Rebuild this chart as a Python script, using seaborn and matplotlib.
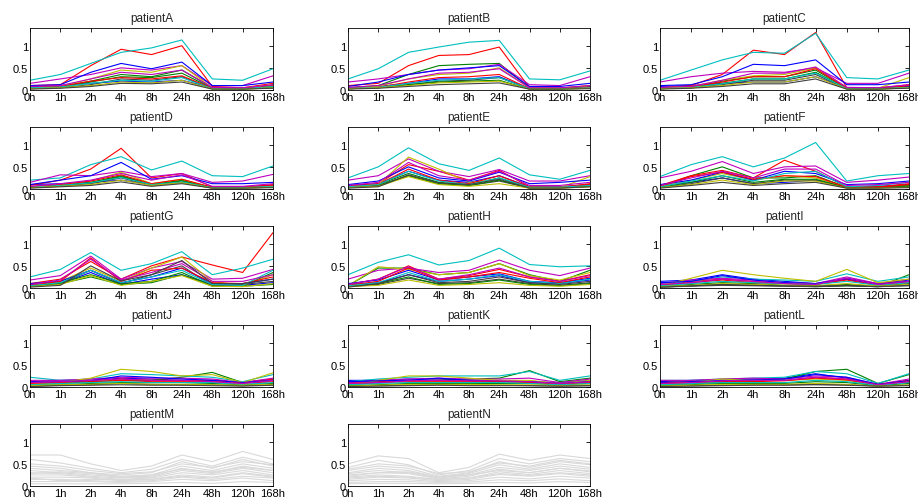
import numpy as np
import pandas as pd
import matplotlib
matplotlib.use("Agg")
import matplotlib.pyplot as plt
import seaborn as sns

times = ["0h", "1h", "2h", "4h", "8h", "24h", "48h", "120h", "168h"]
patients = ["patientA", "patientB", "patientC", "patientD", "patientE", "patientF", "patientG",
            "patientH", "patientI", "patientJ", "patientK", "patientL", "patientM", "patientN"]

patientA = [
    [0.08,0.10,0.15,0.20,0.18,0.22,0.05,0.04,0.10],
    [0.05,0.08,0.20,0.35,0.30,0.45,0.05,0.03,0.08],
    [0.10,0.12,0.55,0.92,0.80,1.00,0.08,0.05,0.15],
    [0.22,0.35,0.60,0.85,0.95,1.13,0.25,0.22,0.48],
    [0.15,0.25,0.35,0.50,0.45,0.55,0.10,0.10,0.32],
    [0.05,0.08,0.25,0.45,0.40,0.55,0.05,0.04,0.12],
    [0.03,0.05,0.12,0.25,0.22,0.30,0.03,0.03,0.06],
    [0.10,0.12,0.40,0.60,0.48,0.63,0.10,0.10,0.18],
    [0.04,0.06,0.18,0.30,0.28,0.38,0.04,0.02,0.05],
    [0.06,0.08,0.20,0.28,0.25,0.32,0.04,0.03,0.10],
    [0.05,0.07,0.15,0.22,0.20,0.28,0.03,0.03,0.08],
    [0.08,0.10,0.25,0.40,0.35,0.45,0.06,0.05,0.12],
    [0.03,0.05,0.10,0.18,0.16,0.22,0.02,0.02,0.05],
    [0.02,0.04,0.08,0.15,0.14,0.18,0.02,0.02,0.04],
]
patientB = [
    [0.05,0.08,0.15,0.25,0.25,0.30,0.03,0.03,0.08],
    [0.05,0.10,0.35,0.55,0.58,0.60,0.05,0.04,0.06],
    [0.10,0.15,0.55,0.78,0.80,0.97,0.05,0.04,0.10],
    [0.25,0.48,0.85,0.97,1.08,1.12,0.25,0.23,0.43],
    [0.18,0.25,0.35,0.45,0.48,0.58,0.12,0.10,0.30],
    [0.05,0.08,0.25,0.35,0.38,0.50,0.05,0.04,0.10],
    [0.03,0.05,0.12,0.20,0.22,0.28,0.03,0.03,0.05],
    [0.08,0.18,0.35,0.45,0.50,0.55,0.08,0.08,0.15],
    [0.03,0.05,0.12,0.18,0.20,0.22,0.02,0.02,0.04],
    [0.04,0.06,0.18,0.28,0.30,0.35,0.03,0.03,0.06],
    [0.04,0.06,0.15,0.22,0.25,0.28,0.03,0.03,0.05],
    [0.06,0.10,0.25,0.38,0.40,0.48,0.05,0.05,0.10],
    [0.03,0.05,0.10,0.16,0.18,0.20,0.02,0.02,0.04],
    [0.02,0.04,0.08,0.12,0.14,0.16,0.02,0.02,0.03],
]
patientC = [
    [0.08,0.10,0.15,0.18,0.18,0.30,0.05,0.05,0.08],
    [0.04,0.06,0.20,0.30,0.30,0.45,0.04,0.03,0.06],
    [0.05,0.10,0.35,0.90,0.80,1.30,0.05,0.04,0.12],
    [0.22,0.45,0.68,0.85,0.83,1.28,0.28,0.25,0.45],
    [0.18,0.30,0.38,0.42,0.40,0.50,0.15,0.15,0.38],
    [0.05,0.08,0.22,0.32,0.35,0.50,0.05,0.04,0.28],
    [0.03,0.05,0.12,0.22,0.22,0.35,0.03,0.03,0.06],
    [0.10,0.12,0.30,0.58,0.55,0.68,0.12,0.12,0.18],
    [0.03,0.05,0.15,0.25,0.25,0.40,0.03,0.02,0.05],
    [0.05,0.07,0.18,0.30,0.30,0.48,0.04,0.03,0.10],
    [0.04,0.06,0.14,0.25,0.25,0.38,0.03,0.03,0.06],
    [0.06,0.08,0.22,0.38,0.38,0.52,0.06,0.05,0.12],
    [0.03,0.05,0.10,0.18,0.18,0.30,0.02,0.02,0.05],
    [0.02,0.04,0.08,0.14,0.14,0.25,0.02,0.02,0.04],
]
patientD = [
    [0.10,0.12,0.15,0.20,0.10,0.15,0.04,0.04,0.08],
    [0.05,0.08,0.15,0.30,0.10,0.20,0.03,0.03,0.06],
    [0.08,0.20,0.45,0.92,0.25,0.35,0.05,0.04,0.10],
    [0.20,0.25,0.55,0.73,0.43,0.63,0.30,0.28,0.52],
    [0.15,0.32,0.30,0.40,0.28,0.35,0.15,0.18,0.33],
    [0.05,0.10,0.18,0.38,0.12,0.22,0.03,0.03,0.06],
    [0.03,0.06,0.12,0.25,0.08,0.15,0.02,0.02,0.04],
    [0.10,0.20,0.30,0.60,0.22,0.30,0.12,0.12,0.15],
    [0.04,0.08,0.14,0.28,0.10,0.18,0.03,0.03,0.05],
    [0.05,0.10,0.18,0.32,0.12,0.22,0.04,0.04,0.08],
    [0.04,0.08,0.14,0.26,0.10,0.16,0.03,0.03,0.06],
    [0.06,0.12,0.20,0.35,0.20,0.32,0.06,0.06,0.12],
    [0.03,0.06,0.10,0.20,0.08,0.14,0.02,0.02,0.04],
    [0.02,0.05,0.08,0.16,0.06,0.12,0.02,0.02,0.03],
]
patientE = [
    [0.08,0.12,0.40,0.20,0.15,0.30,0.05,0.05,0.10],
    [0.05,0.10,0.35,0.15,0.10,0.25,0.03,0.03,0.08],
    [0.06,0.12,0.55,0.40,0.20,0.42,0.05,0.04,0.12],
    [0.25,0.50,0.93,0.57,0.42,0.70,0.32,0.22,0.42],
    [0.20,0.30,0.68,0.40,0.28,0.44,0.18,0.18,0.30],
    [0.05,0.10,0.72,0.45,0.15,0.20,0.04,0.03,0.28],
    [0.03,0.08,0.30,0.12,0.08,0.18,0.02,0.02,0.06],
    [0.10,0.18,0.50,0.25,0.18,0.38,0.12,0.15,0.20],
    [0.04,0.08,0.30,0.12,0.08,0.20,0.03,0.03,0.06],
    [0.05,0.10,0.45,0.20,0.12,0.30,0.04,0.04,0.10],
    [0.05,0.10,0.40,0.18,0.10,0.25,0.04,0.04,0.08],
    [0.08,0.15,0.60,0.30,0.20,0.40,0.08,0.08,0.15],
    [0.03,0.06,0.28,0.10,0.06,0.12,0.02,0.02,0.05],
    [0.02,0.05,0.32,0.14,0.10,0.22,0.02,0.02,0.05],
]
patientF = [
    [0.08,0.15,0.25,0.12,0.15,0.20,0.05,0.06,0.10],
    [0.05,0.30,0.50,0.25,0.25,0.30,0.04,0.04,0.08],
    [0.08,0.30,0.42,0.25,0.65,0.40,0.05,0.05,0.12],
    [0.28,0.55,0.73,0.50,0.70,1.05,0.18,0.30,0.35],
    [0.25,0.40,0.62,0.35,0.50,0.52,0.15,0.20,0.27],
    [0.05,0.20,0.35,0.20,0.30,0.25,0.04,0.03,0.06],
    [0.03,0.12,0.25,0.12,0.20,0.20,0.03,0.03,0.05],
    [0.10,0.20,0.38,0.20,0.40,0.35,0.10,0.12,0.18],
    [0.04,0.15,0.30,0.15,0.22,0.22,0.03,0.03,0.06],
    [0.06,0.28,0.38,0.22,0.30,0.28,0.04,0.04,0.10],
    [0.05,0.18,0.30,0.18,0.35,0.40,0.05,0.08,0.15],
    [0.08,0.25,0.40,0.25,0.45,0.45,0.08,0.10,0.15],
    [0.03,0.10,0.20,0.10,0.18,0.18,0.02,0.02,0.04],
    [0.02,0.08,0.15,0.08,0.12,0.15,0.02,0.02,0.03],
]
patientG = [
    [0.08,0.10,0.35,0.08,0.20,0.30,0.08,0.06,0.12],
    [0.05,0.12,0.30,0.10,0.15,0.35,0.05,0.04,0.35],
    [0.10,0.20,0.60,0.20,0.50,0.70,0.52,0.35,1.25],
    [0.25,0.42,0.80,0.40,0.55,0.82,0.30,0.45,0.65],
    [0.18,0.28,0.72,0.20,0.45,0.60,0.20,0.22,0.42],
    [0.05,0.15,0.45,0.15,0.45,0.70,0.15,0.05,0.30],
    [0.03,0.10,0.40,0.10,0.30,0.50,0.05,0.08,0.15],
    [0.10,0.15,0.40,0.12,0.25,0.45,0.10,0.10,0.20],
    [0.04,0.10,0.25,0.08,0.12,0.30,0.04,0.04,0.08],
    [0.06,0.15,0.68,0.15,0.40,0.45,0.12,0.10,0.25],
    [0.05,0.12,0.40,0.12,0.25,0.40,0.08,0.06,0.40],
    [0.08,0.18,0.65,0.18,0.35,0.55,0.15,0.15,0.30],
    [0.03,0.08,0.28,0.06,0.15,0.28,0.04,0.03,0.10],
    [0.02,0.06,0.50,0.16,0.30,0.62,0.10,0.10,0.20],
]
patientH = [
    [0.08,0.12,0.30,0.15,0.20,0.28,0.12,0.10,0.18],
    [0.05,0.45,0.45,0.30,0.35,0.55,0.30,0.15,0.40],
    [0.08,0.20,0.50,0.20,0.28,0.42,0.25,0.15,0.30],
    [0.30,0.58,0.75,0.52,0.62,0.90,0.53,0.48,0.50],
    [0.20,0.40,0.45,0.35,0.40,0.63,0.40,0.28,0.45],
    [0.05,0.48,0.42,0.30,0.35,0.55,0.28,0.18,0.35],
    [0.03,0.08,0.22,0.10,0.12,0.20,0.10,0.06,0.12],
    [0.10,0.18,0.40,0.18,0.25,0.32,0.15,0.12,0.22],
    [0.04,0.10,0.25,0.08,0.10,0.18,0.08,0.05,0.10],
    [0.06,0.15,0.45,0.18,0.25,0.35,0.22,0.12,0.25],
    [0.05,0.12,0.35,0.15,0.20,0.30,0.15,0.10,0.20],
    [0.08,0.20,0.48,0.20,0.30,0.45,0.25,0.15,0.28],
    [0.03,0.06,0.18,0.06,0.08,0.12,0.06,0.04,0.08],
    [0.02,0.10,0.30,0.12,0.15,0.25,0.12,0.08,0.15],
]
patientI = [
    [0.15,0.18,0.30,0.20,0.15,0.10,0.22,0.10,0.18],
    [0.02,0.05,0.08,0.06,0.05,0.03,0.05,0.03,0.30],
    [0.05,0.15,0.20,0.15,0.10,0.08,0.20,0.08,0.15],
    [0.08,0.15,0.25,0.20,0.18,0.15,0.32,0.15,0.25],
    [0.10,0.18,0.22,0.18,0.12,0.10,0.25,0.10,0.20],
    [0.05,0.22,0.40,0.30,0.22,0.15,0.42,0.12,0.20],
    [0.02,0.04,0.06,0.05,0.04,0.03,0.05,0.03,0.05],
    [0.12,0.15,0.28,0.18,0.12,0.10,0.20,0.08,0.15],
    [0.03,0.08,0.12,0.10,0.06,0.05,0.08,0.04,0.10],
    [0.06,0.12,0.18,0.12,0.10,0.08,0.18,0.06,0.12],
    [0.05,0.10,0.15,0.12,0.10,0.08,0.15,0.06,0.12],
    [0.08,0.12,0.20,0.15,0.10,0.08,0.22,0.08,0.15],
    [0.03,0.06,0.10,0.08,0.06,0.05,0.10,0.04,0.08],
    [0.02,0.05,0.08,0.06,0.05,0.04,0.06,0.03,0.06],
]
patientJ = [
    [0.12,0.15,0.15,0.20,0.18,0.15,0.15,0.10,0.15],
    [0.05,0.08,0.12,0.15,0.15,0.22,0.33,0.10,0.18],
    [0.10,0.12,0.15,0.18,0.15,0.15,0.15,0.10,0.18],
    [0.22,0.15,0.18,0.30,0.28,0.25,0.22,0.12,0.28],
    [0.15,0.15,0.18,0.22,0.20,0.20,0.18,0.10,0.20],
    [0.05,0.10,0.20,0.40,0.35,0.25,0.28,0.10,0.32],
    [0.02,0.04,0.05,0.08,0.06,0.05,0.05,0.03,0.05],
    [0.10,0.12,0.14,0.25,0.22,0.18,0.15,0.10,0.15],
    [0.03,0.05,0.08,0.10,0.10,0.10,0.08,0.05,0.08],
    [0.08,0.10,0.12,0.15,0.12,0.12,0.12,0.08,0.12],
    [0.05,0.08,0.10,0.12,0.10,0.10,0.10,0.06,0.10],
    [0.10,0.12,0.15,0.18,0.15,0.15,0.12,0.08,0.15],
    [0.03,0.05,0.06,0.08,0.06,0.06,0.05,0.04,0.06],
    [0.01,0.03,0.04,0.05,0.04,0.04,0.03,0.02,0.04],
]
patientK = [
    [0.15,0.15,0.18,0.18,0.15,0.15,0.12,0.10,0.15],
    [0.05,0.10,0.15,0.15,0.18,0.20,0.37,0.12,0.20],
    [0.10,0.12,0.15,0.15,0.14,0.14,0.12,0.08,0.12],
    [0.12,0.18,0.22,0.25,0.25,0.25,0.35,0.15,0.25],
    [0.10,0.15,0.18,0.20,0.18,0.18,0.20,0.10,0.18],
    [0.03,0.15,0.25,0.25,0.20,0.15,0.15,0.08,0.15],
    [0.02,0.03,0.04,0.05,0.04,0.04,0.03,0.02,0.03],
    [0.12,0.14,0.15,0.20,0.15,0.12,0.12,0.08,0.12],
    [0.03,0.05,0.08,0.08,0.08,0.08,0.08,0.05,0.08],
    [0.08,0.10,0.12,0.12,0.12,0.12,0.10,0.06,0.10],
    [0.05,0.08,0.10,0.10,0.10,0.10,0.08,0.05,0.08],
    [0.08,0.10,0.14,0.15,0.14,0.14,0.12,0.08,0.12],
    [0.02,0.04,0.06,0.06,0.06,0.05,0.05,0.03,0.05],
    [0.01,0.02,0.03,0.04,0.03,0.03,0.03,0.02,0.03],
]
patientL = [
    [0.12,0.15,0.15,0.18,0.20,0.30,0.20,0.05,0.15],
    [0.05,0.08,0.10,0.12,0.18,0.35,0.40,0.08,0.28],
    [0.10,0.12,0.12,0.15,0.15,0.22,0.18,0.05,0.15],
    [0.15,0.15,0.18,0.20,0.22,0.35,0.30,0.08,0.30],
    [0.15,0.15,0.18,0.20,0.18,0.25,0.22,0.06,0.18],
    [0.05,0.10,0.18,0.15,0.15,0.18,0.15,0.05,0.12],
    [0.02,0.03,0.04,0.05,0.05,0.06,0.05,0.02,0.04],
    [0.10,0.12,0.14,0.16,0.18,0.28,0.22,0.06,0.14],
    [0.03,0.05,0.08,0.08,0.08,0.12,0.10,0.03,0.08],
    [0.08,0.10,0.12,0.12,0.14,0.20,0.16,0.05,0.12],
    [0.05,0.08,0.10,0.10,0.10,0.15,0.12,0.04,0.10],
    [0.08,0.10,0.14,0.15,0.15,0.22,0.18,0.05,0.12],
    [0.02,0.04,0.06,0.06,0.06,0.08,0.06,0.02,0.05],
    [0.01,0.02,0.03,0.04,0.04,0.05,0.04,0.02,0.03],
]
patientM = [
    [0.70,0.70,0.50,0.35,0.45,0.70,0.55,0.78,0.60],
    [0.60,0.52,0.40,0.30,0.38,0.60,0.45,0.65,0.50],
    [0.45,0.40,0.30,0.25,0.30,0.55,0.40,0.60,0.45],
    [0.40,0.35,0.30,0.20,0.25,0.45,0.35,0.50,0.40],
    [0.35,0.30,0.25,0.20,0.22,0.40,0.30,0.45,0.35],
    [0.30,0.28,0.22,0.18,0.20,0.35,0.28,0.40,0.30],
    [0.25,0.25,0.20,0.15,0.18,0.30,0.25,0.35,0.25],
    [0.20,0.20,0.18,0.12,0.15,0.25,0.20,0.30,0.22],
    [0.15,0.15,0.12,0.10,0.12,0.20,0.15,0.22,0.18],
    [0.10,0.10,0.10,0.08,0.10,0.15,0.12,0.18,0.12],
    [0.05,0.05,0.05,0.05,0.06,0.08,0.06,0.10,0.08],
    [0.50,0.45,0.35,0.28,0.32,0.50,0.42,0.55,0.48],
    [0.28,0.32,0.28,0.22,0.25,0.38,0.32,0.42,0.35],
    [0.18,0.12,0.15,0.14,0.15,0.22,0.18,0.28,0.20],
]
patientN = [
    [0.50,0.68,0.62,0.30,0.42,0.72,0.58,0.70,0.62],
    [0.42,0.58,0.48,0.25,0.35,0.62,0.50,0.62,0.55],
    [0.35,0.45,0.40,0.22,0.30,0.55,0.42,0.55,0.48],
    [0.30,0.40,0.35,0.20,0.28,0.48,0.38,0.50,0.42],
    [0.28,0.35,0.30,0.18,0.25,0.42,0.35,0.45,0.38],
    [0.25,0.30,0.28,0.16,0.22,0.38,0.30,0.40,0.34],
    [0.20,0.25,0.22,0.14,0.18,0.32,0.26,0.35,0.28],
    [0.15,0.20,0.18,0.12,0.15,0.26,0.22,0.28,0.22],
    [0.12,0.15,0.14,0.10,0.12,0.20,0.16,0.22,0.18],
    [0.08,0.10,0.10,0.08,0.09,0.14,0.12,0.16,0.12],
    [0.05,0.06,0.06,0.05,0.06,0.08,0.07,0.10,0.08],
    [0.38,0.50,0.45,0.28,0.32,0.52,0.45,0.58,0.50],
    [0.22,0.30,0.32,0.20,0.25,0.35,0.30,0.40,0.32],
    [0.18,0.22,0.20,0.15,0.18,0.28,0.24,0.30,0.25],
]

all_data = [patientA, patientB, patientC, patientD, patientE, patientF, patientG,
            patientH, patientI, patientJ, patientK, patientL, patientM, patientN]
gray_panels = {"patientM", "patientN"}

matlab_colors = [(0, 0, 1), (0, 0.5, 0), (1, 0, 0), (0, 0.75, 0.75),
                 (0.75, 0, 0.75), (0.75, 0.75, 0), (0.25, 0.25, 0.25)]

sns.set_style("white")
plt.rcParams["font.family"] = ["Liberation Sans", "DejaVu Sans"]

W, H = 918, 502
fig = plt.figure(figsize=(W / 100, H / 100), dpi=100)
fig.patch.set_facecolor("white")

col_left = [30, 348, 660]
col_width = [243, 242, 249]
row_top = [29, 128, 227, 326, 425]
ax_h = 62

for i, (name, lines) in enumerate(zip(patients, all_data)):
    r, c = divmod(i, 3)
    left = col_left[c] / W
    bottom = (H - row_top[r] - ax_h) / H
    ax = fig.add_axes([left, bottom, col_width[c] / W, ax_h / H])
    rows = []
    for g, vals in enumerate(lines):
        for t, v in enumerate(vals):
            rows.append({"t": t, "v": v, "gene": f"g{g:02d}"})
    df = pd.DataFrame(rows)
    genes = [f"g{g:02d}" for g in range(len(lines))]
    if name in gray_panels:
        pal = [(0.85, 0.85, 0.85)] * len(genes)
    else:
        pal = [matlab_colors[g % 7] for g in range(len(genes))]
    sns.lineplot(data=df, x="t", y="v", hue="gene", hue_order=genes, palette=pal,
                 estimator=None, legend=False, ax=ax, linewidth=0.8)
    ax.set_xlim(0, 8)
    ax.set_ylim(0, 1.4)
    ax.set_xticks(range(9))
    ax.set_xticklabels(times)
    ax.set_yticks([0, 0.5, 1])
    ax.set_yticklabels(["0", "0.5", "1"])
    ax.set_xlabel("")
    ax.set_ylabel("")
    ax.set_title(name, fontsize=8.5, pad=5)
    ax.tick_params(direction="in", length=3, width=0.6, labelsize=8, pad=1.5,
                   top=True, right=True, colors="black")
    for s in ax.spines.values():
        s.set_visible(True)
        s.set_color("black")
        s.set_linewidth(0.6)

fig.savefig("out.png", dpi=100, facecolor="white")
